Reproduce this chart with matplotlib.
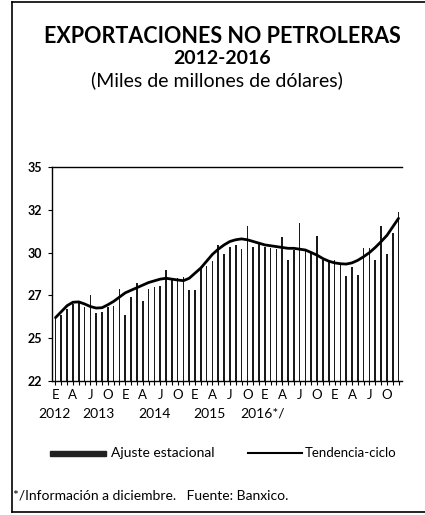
import matplotlib
matplotlib.use("Agg")
import matplotlib.pyplot as plt
import numpy as np
from matplotlib.lines import Line2D
from matplotlib.patches import Rectangle

plt.rcParams['font.family'] = ['Lato', 'DejaVu Sans']

# ---- data ----
ajuste = [26.2, 26.35, 26.7, 27.0, 27.05, 26.8, 27.5, 26.45, 26.55, 26.8, 26.9, 27.9,
          26.35, 27.4, 28.2, 27.2, 27.9, 28.0, 28.05, 29.0, 28.5, 28.5, 28.6, 27.8,
          27.8, 29.1, 29.2, 29.5, 30.45, 29.9, 30.35, 30.45, 30.2, 31.55, 30.35, 30.5,
          30.35, 30.25, 30.2, 30.9, 29.55, 30.15, 31.7, 30.15, 30.05, 30.95, 29.55, 29.55,
          29.55, 29.25, 28.65, 29.15, 28.7, 30.25, 30.25, 29.55, 31.55, 29.9, 31.15, 32.4]
tendencia = [26.2, 26.55, 26.9, 27.1, 27.12, 27.0, 26.85, 26.76, 26.78, 26.95, 27.15, 27.4,
             27.65, 27.8, 27.95, 28.1, 28.25, 28.35, 28.45, 28.5, 28.45, 28.4, 28.36, 28.5,
             28.8, 29.1, 29.5, 29.9, 30.2, 30.45, 30.65, 30.75, 30.8, 30.75, 30.65, 30.55,
             30.45, 30.4, 30.35, 30.3, 30.25, 30.25, 30.2, 30.15, 30.0, 29.85, 29.65, 29.5,
             29.4, 29.35, 29.33, 29.4, 29.55, 29.76, 30.0, 30.3, 30.64, 31.0, 31.5, 32.0]
month_labels = ['E', 'A', 'J', 'O'] * 5
year_labels = ['2012', '2013', '2014', '2015', '2016*/']
ytick_values = [22.5, 25, 27.5, 30, 32.5, 35]
ytick_labels = ['22', '25', '27', '30', '32', '35']

# ---- figure ----
fig = plt.figure(figsize=(4.25, 5.15), dpi=100)
ax = fig.add_axes([52/425, 1-381/515, 350/425, 214/515])

x = np.arange(len(ajuste))
ax.bar(x, [v - 22.5 for v in ajuste], bottom=22.5, width=0.28, color='#1a1a1a', zorder=2)
ax.plot(x, tendencia, color='black', lw=2.0, zorder=3, solid_capstyle='round')

ax.set_xlim(-0.6, len(ajuste) - 0.4)
ax.set_ylim(22.5, 35)
ax.set_yticks(ytick_values)
ax.set_yticklabels(ytick_labels, fontsize=9, fontweight='bold')
ax.set_xticks(np.arange(0, 60, 3))
ax.set_xticklabels(month_labels, fontsize=9.5)
ax.set_xticks(np.arange(0, 60, 1), minor=True)
ax.tick_params(axis='x', which='both', length=3, width=0.8, pad=3)
ax.tick_params(axis='y', length=3, width=0.8, pad=4)
for s in ['left', 'bottom', 'top']:
    ax.spines[s].set_linewidth(1.0)
ax.spines['right'].set_visible(False)

# year labels under month labels
year_px = [54, 98, 154, 209, 263]
for yl, px in zip(year_labels, year_px):
    fig.text(px/425, 1-414/515, yl, ha='center', va='center', fontsize=10)

# titles
fig.text(222/425, 1-36/515, 'EXPORTACIONES NO PETROLERAS', ha='center', va='center',
         fontsize=15.5, fontweight='bold')
fig.text(222/425, 1-59/515, '2012-2016', ha='center', va='center',
         fontsize=14, fontweight='bold')
fig.text(217/425, 1-80/515, '(Miles de millones de dólares)', ha='center', va='center',
         fontsize=14)

# legend (manual)
fig.patches.append(Rectangle((50/425, 1-456/515), 56/425, 5/515, transform=fig.transFigure,
                             color='#222222'))
fig.text(111/425, 1-453/515, 'Ajuste estacional', ha='left', va='center', fontsize=10)
fig.lines.append(Line2D([248/425, 302/425], [1-453/515, 1-453/515], transform=fig.transFigure,
                        color='black', lw=1.5))
fig.text(305/425, 1-453/515, 'Tendencia-ciclo', ha='left', va='center', fontsize=9.5)

# footnote
fig.text(13/425, 1-496/515, '*/Información a diciembre.   Fuente: Banxico.', ha='left',
         va='center', fontsize=10)

# frame
fig.lines.append(Line2D([12/425, 12/425], [1-512/515, 1-2/515], transform=fig.transFigure,
                        color='black', lw=1.2))
fig.lines.append(Line2D([12/425, 1], [1-2/515, 1-2/515], transform=fig.transFigure,
                        color='black', lw=1.2))
fig.lines.append(Line2D([12/425, 1], [1-512/515, 1-512/515], transform=fig.transFigure,
                        color='black', lw=1.2))

fig.savefig('out.png', dpi=100)
